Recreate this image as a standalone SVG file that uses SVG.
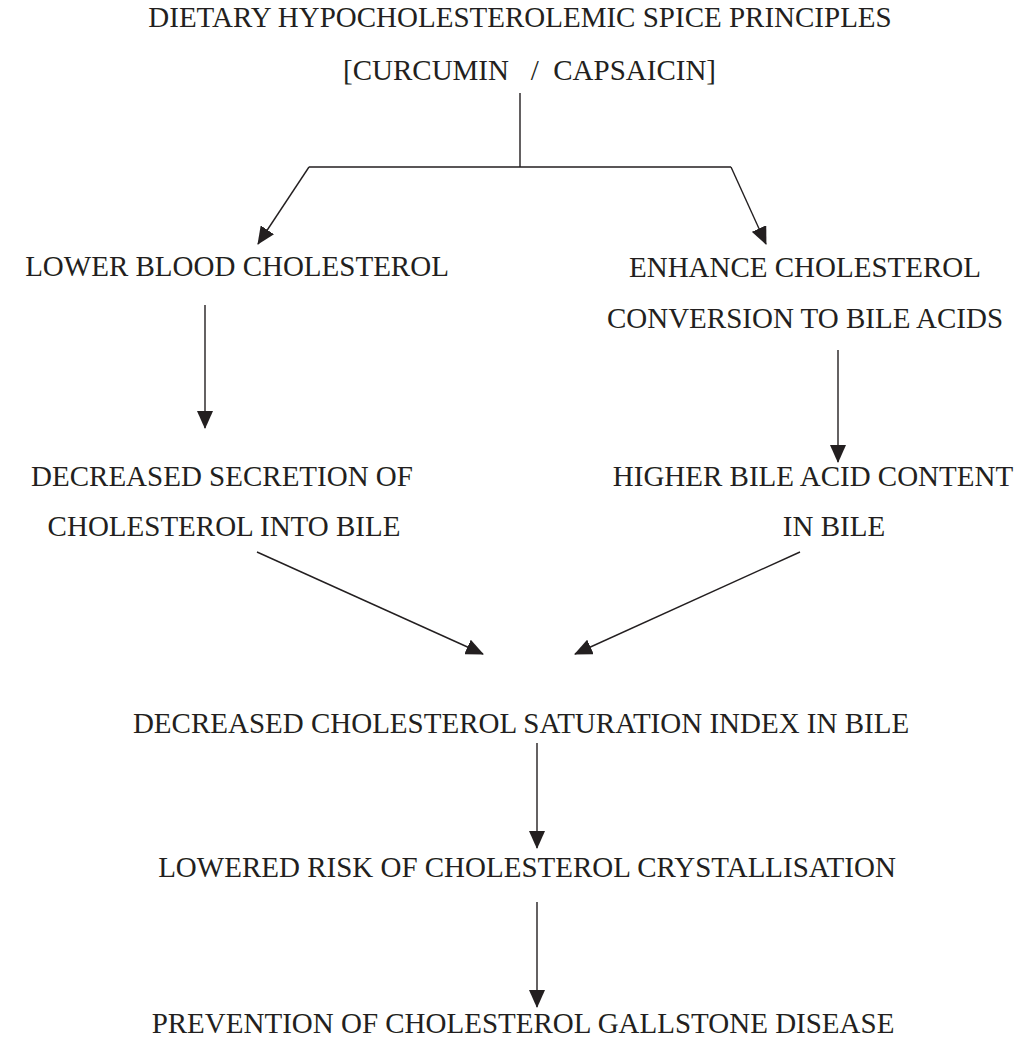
<svg xmlns="http://www.w3.org/2000/svg" width="1021" height="1040" viewBox="0 0 1021 1040">
<style>
text{font-family:"Liberation Serif","Times New Roman",serif;font-size:29px;fill:#231f20;text-anchor:middle}
.c{stroke:#231f20;stroke-width:1.4;fill:none}
</style>
<defs>
<marker id="ah" viewBox="0 0 18 16" refX="17" refY="8" markerWidth="18" markerHeight="16" markerUnits="userSpaceOnUse" orient="auto">
<path d="M0,0 L18,8 L0,16 Z" fill="#231f20"/>
</marker>
</defs>
<rect width="1021" height="1040" fill="#fff"/>
<g id="n1">
<text x="520" y="27">DIETARY HYPOCHOLESTEROLEMIC SPICE PRINCIPLES</text>
<text x="343" y="80" style="text-anchor:start" xml:space="preserve">[CURCUMIN   /  CAPSAICIN]</text>
</g>
<g id="n2"><text x="237" y="276">LOWER BLOOD CHOLESTEROL</text></g>
<g id="n3">
<text x="805" y="277">ENHANCE CHOLESTEROL</text>
<text x="805" y="328">CONVERSION TO BILE ACIDS</text>
</g>
<g id="n4">
<text x="222" y="486">DECREASED SECRETION OF</text>
<text x="224" y="536">CHOLESTEROL INTO BILE</text>
</g>
<g id="n5">
<text x="813" y="486">HIGHER BILE ACID CONTENT</text>
<text x="834" y="536">IN BILE</text>
</g>
<g id="n6"><text x="521" y="733">DECREASED CHOLESTEROL SATURATION INDEX IN BILE</text></g>
<g id="n7"><text x="527" y="877">LOWERED RISK OF CHOLESTEROL CRYSTALLISATION</text></g>
<g id="n8"><text x="523" y="1033">PREVENTION OF CHOLESTEROL GALLSTONE DISEASE</text></g>
<g id="connectors" class="c">
<path d="M520,93 V167 M309,167 H731"/>
<path d="M309,167 L258,244" marker-end="url(#ah)"/>
<path d="M731,167 L766,244" marker-end="url(#ah)"/>
<path d="M205,305 V428" marker-end="url(#ah)"/>
<path d="M838,350 V462" marker-end="url(#ah)"/>
<path d="M257,552 L483,654" marker-end="url(#ah)"/>
<path d="M800,552 L575,654" marker-end="url(#ah)"/>
<path d="M537,743 V848" marker-end="url(#ah)"/>
<path d="M537,902 V1007" marker-end="url(#ah)"/>
</g>
</svg>
